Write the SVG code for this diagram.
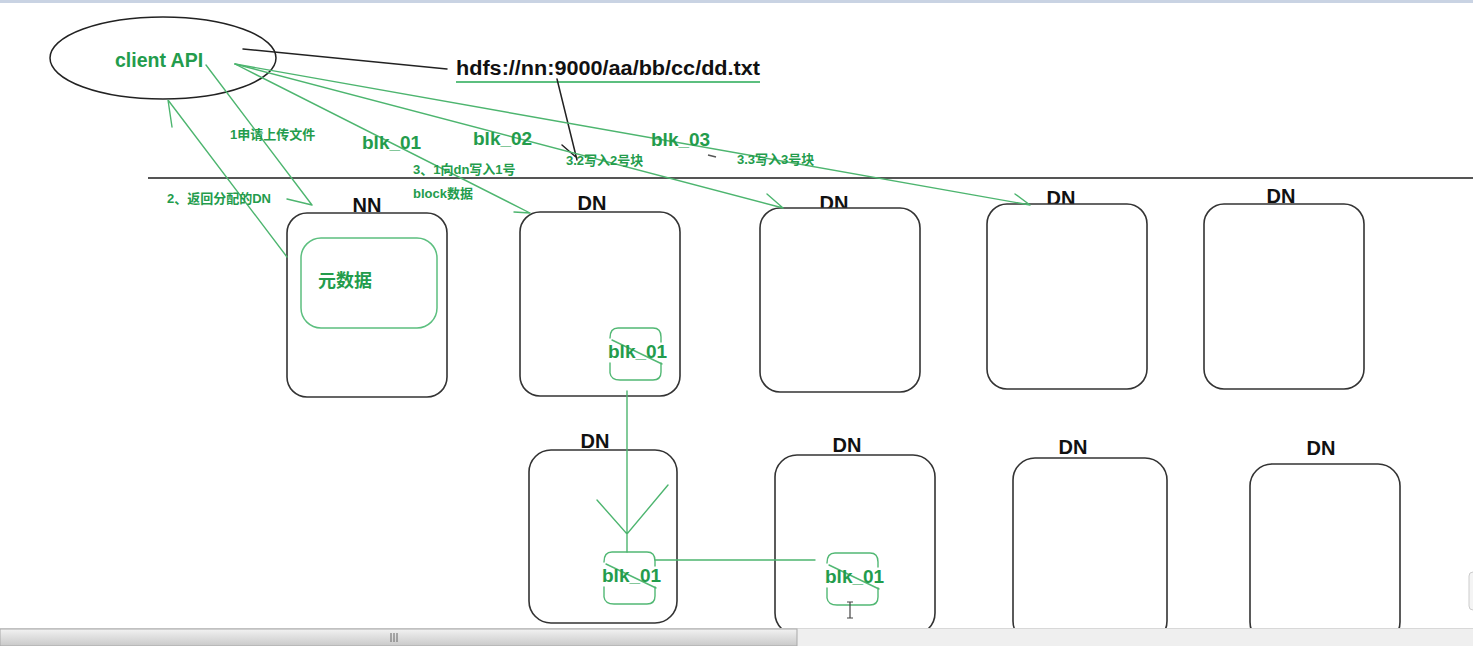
<svg xmlns="http://www.w3.org/2000/svg" xmlns:xlink="http://www.w3.org/1999/xlink" width="1473" height="646" viewBox="0 0 1473 646">
  <style>
    .box { fill: #ffffff; stroke: #333333; stroke-width: 1.6; }
    .title { font-family: "Liberation Sans", Arial, sans-serif; font-weight: bold; font-size: 20px; fill: #111111; }
    .gtext { font-family: "Liberation Sans", "Noto Sans CJK SC", sans-serif; font-weight: bold; fill: #239c4c; }
    .big { font-size: 19px; }
    .small { font-size: 13px; }
    .gline { fill: none; stroke: #4db56f; stroke-width: 1.4; stroke-linecap: round; }
    .kline { fill: none; stroke: #222222; stroke-width: 1.5; stroke-linecap: round; }
    .blk { fill: none; stroke: #52b874; stroke-width: 1.4; stroke-linecap: round; }
  </style>
  <defs>
    <!-- hand-drawn block outline with a strike-through stroke -->
    <g id="blkShape">
      <path class="blk" d="M2,10 Q2,0 10,0 L45,0 Q53,0 53,9 L53,14"/>
      <path class="blk" d="M2,35 L2,45 Q3,52 12,52 L45,52 Q53,52 53,44 L53,35"/>
      <path class="blk" d="M4,12 L54,36"/>
    </g>
    <linearGradient id="thumbGrad" x1="0" y1="0" x2="0" y2="1">
      <stop offset="0" stop-color="#f2f2f2"/>
      <stop offset="1" stop-color="#c9c9c9"/>
    </linearGradient>
  </defs>

  <rect x="0" y="0" width="1473" height="646" fill="#ffffff"/>
  <rect x="0" y="0" width="1473" height="3" fill="#c9d3e3"/>

  <!-- client -->
  <g id="client">
    <ellipse cx="163" cy="58" rx="113" ry="41" fill="none" stroke="#222222" stroke-width="1.5"/>
    <text class="gtext" x="115" y="67" font-size="19.5">client API</text>
  </g>

  <!-- file path -->
  <g id="filepath">
    <text class="title" x="456" y="75" font-size="21.5" textLength="304" lengthAdjust="spacingAndGlyphs">hdfs://nn:9000/aa/bb/cc/dd.txt</text>
    <line x1="456" y1="82" x2="760" y2="82" stroke="#5cbf7f" stroke-width="2"/>
  </g>

  <!-- divider -->
  <line id="divider" x1="148" y1="178" x2="1473" y2="178" stroke="#555555" stroke-width="2"/>

  <!-- name node -->
  <g id="nn">
    <text class="title" x="367" y="212" text-anchor="middle">NN</text>
    <rect class="box" x="287" y="213" width="160" height="184" rx="20"/>
    <rect x="301" y="238" width="136" height="90" rx="20" fill="none" stroke="#5cbf7f" stroke-width="1.5"/>
    <text class="gtext" x="318" y="287" font-size="18">元数据</text>
  </g>

  <!-- data nodes, top row -->
  <g id="dn1">
    <text class="title" x="592" y="210" text-anchor="middle">DN</text>
    <rect class="box" x="520" y="212" width="160" height="184" rx="20"/>
    <use xlink:href="#blkShape" href="#blkShape" transform="translate(608,328)"/>
    <text class="gtext big" x="608" y="358">blk_01</text>
  </g>
  <g id="dn2">
    <text class="title" x="834" y="210" text-anchor="middle">DN</text>
    <rect class="box" x="760" y="208" width="160" height="184" rx="20"/>
  </g>
  <g id="dn3">
    <text class="title" x="1061" y="205" text-anchor="middle">DN</text>
    <rect class="box" x="987" y="204" width="160" height="185" rx="20"/>
  </g>
  <g id="dn4">
    <text class="title" x="1281" y="203" text-anchor="middle">DN</text>
    <rect class="box" x="1204" y="204" width="160" height="185" rx="20"/>
  </g>

  <!-- data nodes, bottom row -->
  <g id="dn5">
    <text class="title" x="595" y="448" text-anchor="middle">DN</text>
    <rect class="box" x="529" y="450" width="148" height="173" rx="22"/>
    <use xlink:href="#blkShape" href="#blkShape" transform="translate(602,552)"/>
    <text class="gtext big" x="602" y="582">blk_01</text>
  </g>
  <g id="dn6">
    <text class="title" x="847" y="452" text-anchor="middle">DN</text>
    <rect class="box" x="775" y="455" width="160" height="180" rx="22"/>
    <use xlink:href="#blkShape" href="#blkShape" transform="translate(825,553)"/>
    <text class="gtext big" x="825" y="583">blk_01</text>
  </g>
  <g id="dn7">
    <text class="title" x="1073" y="454" text-anchor="middle">DN</text>
    <rect class="box" x="1013" y="458" width="154" height="185" rx="22"/>
  </g>
  <g id="dn8">
    <text class="title" x="1321" y="455" text-anchor="middle">DN</text>
    <rect class="box" x="1250" y="464" width="150" height="180" rx="22"/>
  </g>

  <!-- connectors -->
  <g id="connectors">
    <!-- client to path -->
    <line class="kline" x1="243" y1="49" x2="447" y2="69"/>
    <!-- path to block 2 label -->
    <path class="kline" d="M557,79 L577,160 M562,145 L577,158"/>
    <path d="M708,155 L716,157" stroke="#555555" stroke-width="1.5"/>

    <!-- 1 request upload -->
    <path class="gline" d="M206,65 L312,205 M287,199 L312,205"/>
    <!-- 2 return assigned DN -->
    <path class="gline" d="M287,257 L168,100 L172,127"/>
    <!-- 3.1 write blk_01 -->
    <path class="gline" d="M235,64 L530,213 M514,212 L530,213"/>
    <!-- 3.2 write blk_02 -->
    <path class="gline" d="M235,64 L783,208 M767,194 L783,208"/>
    <!-- 3.3 write blk_03 -->
    <path class="gline" d="M235,64 L1030,205 M1015,194 L1030,205"/>

    <!-- replication pipeline -->
    <path class="gline" d="M627,391 L627,552 M597,500 L627,534 L668,485"/>
    <path class="gline" d="M655,560 L815,560"/>
  </g>

  <!-- labels -->
  <g id="labels">
    <text class="gtext small" x="230" y="139">1申请上传文件</text>
    <text class="gtext small" x="167" y="203">2、返回分配的DN</text>
    <text class="gtext big" x="362" y="149">blk_01</text>
    <text class="gtext big" x="473" y="145">blk_02</text>
    <text class="gtext big" x="651" y="146">blk_03</text>
    <text class="gtext small" x="413" y="174">3、1向dn写入1号</text>
    <text class="gtext small" x="413" y="198">block数据</text>
    <text class="gtext small" x="566" y="165" font-size="12.5">3.2写入2号块</text>
    <text class="gtext small" x="737" y="164" font-size="12.5">3.3写入3号块</text>
  </g>

  <!-- text cursor -->
  <path d="M850,602 L850,618 M847,602 L853,602 M847,618 L853,618" stroke="#444444" stroke-width="1.2" fill="none"/>

  <!-- edge widget -->
  <rect x="1469" y="572" width="10" height="38" rx="4" fill="#f4f4f4" stroke="#cccccc"/>

  <!-- horizontal scrollbar -->
  <g id="scrollbar">
    <rect x="0" y="628" width="1473" height="18" fill="#efefef"/>
    <line x1="0" y1="628.5" x2="1473" y2="628.5" stroke="#d8d8d8"/>
    <rect x="0" y="629" width="797" height="17" fill="url(#thumbGrad)" stroke="#a9a9a9" stroke-width="1"/>
    <path d="M391,633 L391,642 M394,633 L394,642 M397,633 L397,642" stroke="#666666" stroke-width="1"/>
  </g>
</svg>
